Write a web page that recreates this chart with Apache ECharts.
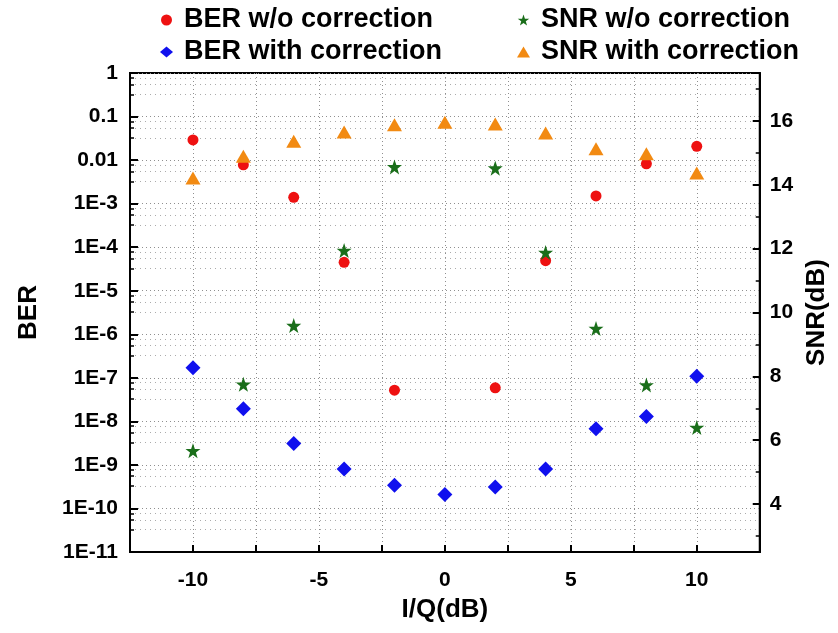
<!DOCTYPE html>
<html>
<head>
<meta charset="utf-8">
<script src="https://cdn.jsdelivr.net/npm/echarts@6/dist/echarts.min.js"></script>
<style>
  html, body { margin: 0; padding: 0; background: #fff; }
  #chart { width: 838px; height: 633px; }
</style>
</head>
<body>
<div id="chart"></div>
<script>
// I/Q imbalance sweep (dB)
const iq = [-10, -8, -6, -4, -2, 0, 2, 4, 6, 8, 10];

// Bit error rate, before and after correction (null = no point)
const berNoCorr   = [0.029, 0.0078, 1.4e-3, 4.5e-5, 5.2e-8, null, 5.9e-8, 4.9e-5, 1.5e-3, 0.0082, 0.0207];
const berWithCorr = [1.7e-7, 1.96e-8, 3.1e-9, 8.1e-10, 3.4e-10, 2.1e-10, 3.1e-10, 8.1e-10, 6.8e-9, 1.3e-8, 1.08e-7];

// Signal-to-noise ratio (dB), before and after correction
const snrNoCorr   = [5.67, 7.75, 9.59, 11.94, 14.56, null, 14.52, 11.88, 9.5, 7.73, 6.4];
const snrWithCorr = [14.21, 14.89, 15.36, 15.65, 15.88, 15.96, 15.9, 15.62, 15.13, 14.97, 14.37];

const seriesNames = ['BER w/o correction', 'BER with correction', 'SNR w/o correction', 'SNR with correction'];

function pairs(xs, ys) {
  const out = [];
  xs.forEach((x, i) => { if (ys[i] != null) out.push([x, ys[i]]); });
  return out;
}

const FONT = '"Liberation Sans", Arial, sans-serif';
const tickFont = { fontFamily: FONT, fontWeight: 'bold', fontSize: 21, color: '#000' };
const nameFont = { fontFamily: FONT, fontWeight: 'bold', fontSize: 26, color: '#000' };
const legendFont = { fontFamily: FONT, fontWeight: 'bold', fontSize: 27, lineHeight: 28, color: '#000', padding: [0, 0, 0, 6] };
const dotted = { color: '#8f8f8f', type: [1, 3], width: 1 };

function berLabel(v) {
  const e = Math.round(Math.log10(v));
  if (e === 0) return '1';
  if (e === -1) return '0.1';
  if (e === -2) return '0.01';
  return '1E-' + (-e);
}

const chart = echarts.init(document.getElementById('chart'), null, { renderer: 'canvas' });

const legendCommon = {
  orient: 'vertical', top: 6, padding: 0, itemGap: 4,
  itemWidth: 13, itemHeight: 11, itemStyle: { borderWidth: 0 },
  textStyle: legendFont
};

chart.setOption({
  backgroundColor: '#fff',
  animation: false,
  legend: [
    { ...legendCommon, data: [seriesNames[0], seriesNames[1]], left: 160 },
    { ...legendCommon, data: [seriesNames[2], seriesNames[3]], left: 517 }
  ],
  grid: {
    left: 130, right: 66, top: 73, bottom: 81,
    show: true, borderColor: '#000', borderWidth: 2, backgroundColor: 'transparent'
  },
  xAxis: {
    type: 'value', min: -12.5, max: 12.5, interval: 2.5,
    name: 'I/Q(dB)', nameLocation: 'middle', nameGap: 45, nameTextStyle: nameFont,
    axisLine: { show: true, onZero: false, lineStyle: { color: '#000', width: 2 } },
    axisTick: { show: true, inside: true, length: 7, lineStyle: { color: '#000', width: 2 } },
    axisLabel: { ...tickFont, margin: 18, formatter: v => (v % 5 === 0 ? String(v) : '') },
    splitLine: { show: true, lineStyle: dotted }
  },
  yAxis: [
    {
      type: 'log', logBase: 10, min: 1e-11, max: 1, interval: 1,
      name: 'BER', nameLocation: 'middle', nameGap: 88, nameRotate: 90, nameTextStyle: nameFont,
      axisLine: { show: true, onZero: false, lineStyle: { color: '#000', width: 2 } },
      axisTick: { show: true, inside: true, length: 8, lineStyle: { color: '#000', width: 2 } },
      minorTick: { show: true, splitNumber: 4, length: 4, lineStyle: { color: '#000', width: 1.5 } },
      axisLabel: { ...tickFont, margin: 12, formatter: berLabel },
      splitLine: { show: true, lineStyle: dotted },
      minorSplitLine: { show: true, lineStyle: { color: '#ababab', type: [1, 4], width: 1 } }
    },
    {
      type: 'value', min: 2.5, max: 17.5, splitNumber: 7,
      name: 'SNR(dB)', nameLocation: 'middle', nameGap: 42, nameRotate: 90, nameTextStyle: nameFont,
      position: 'right',
      axisLine: { show: true, onZero: false, lineStyle: { color: '#000', width: 2 } },
      axisTick: { show: true, inside: true, length: 7, lineStyle: { color: '#000', width: 2 } },
      minorTick: { show: true, splitNumber: 2, length: 4, lineStyle: { color: '#000', width: 1.5 } },
      axisLabel: { ...tickFont, margin: 10, formatter: v => (Number.isInteger(v) && v % 2 === 0 ? String(v) : '') },
      splitLine: { show: false }
    }
  ],
  series: [
    {
      name: seriesNames[0], type: 'scatter', yAxisIndex: 0,
      symbol: 'circle', symbolSize: 11,
      itemStyle: { color: '#ee1111', opacity: 1 },
      data: pairs(iq, berNoCorr), z: 3
    },
    {
      name: seriesNames[1], type: 'scatter', yAxisIndex: 0,
      symbol: 'diamond', symbolSize: [15, 15],
      itemStyle: { color: '#1010ee', opacity: 1 },
      data: pairs(iq, berWithCorr), z: 3
    },
    {
      name: seriesNames[2], type: 'scatter', yAxisIndex: 1,
      symbol: 'path://M50,0 L61.8,34.5 L97.6,34.5 L68.8,56.5 L79.4,91 L50,70 L20.6,91 L31.2,56.5 L2.4,34.5 L38.2,34.5 Z',
      symbolSize: 15,
      itemStyle: { color: '#1a6e1a', opacity: 1 },
      data: pairs(iq, snrNoCorr), z: 4
    },
    {
      name: seriesNames[3], type: 'scatter', yAxisIndex: 1,
      symbol: 'triangle', symbolSize: [15, 13],
      itemStyle: { color: '#f28a12', opacity: 1 },
      data: pairs(iq, snrWithCorr), z: 4
    }
  ]
});
</script>
</body>
</html>
